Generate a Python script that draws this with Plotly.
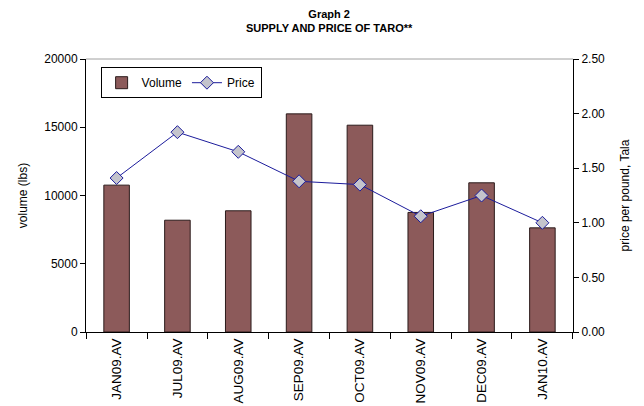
import plotly.graph_objects as go

categories = ["JAN09.AV", "JUL09.AV", "AUG09.AV", "SEP09.AV", "OCT09.AV", "NOV09.AV", "DEC09.AV", "JAN10.AV"]
volume = [10760, 8190, 8880, 15980, 15150, 8760, 10930, 7630]
price = [1.41, 1.83, 1.65, 1.38, 1.35, 1.06, 1.25, 1.00]
left_ticks = [0, 5000, 10000, 15000, 20000]
left_tick_text = ["0", "5000", "10000", "15000", "20000"]
right_ticks = [0, 0.5, 1.0, 1.5, 2.0, 2.5]
right_tick_text = ["0.00", "0.50", "1.00", "1.50", "2.00", "2.50"]

FONT = "Liberation Sans, Arial, sans-serif"

fig = go.Figure()
fig.add_trace(go.Bar(
    x=categories, y=volume, name="Volume",
    marker=dict(color="#8c5a5a", line=dict(color="#2b1b1b", width=1)),
    width=0.42,
))
fig.add_trace(go.Scatter(
    x=categories, y=price, name="Price", yaxis="y2", mode="lines+markers",
    line=dict(color="#1c1c9c", width=1),
    marker=dict(symbol="diamond", size=10, color="#c4c4cc", line=dict(color="#1c1c9c", width=1)),
))

fig.update_layout(
    width=644, height=406,
    margin=dict(l=86, r=71, t=59, b=74),
    paper_bgcolor="white", plot_bgcolor="white",
    font=dict(family=FONT, size=12, color="black"),
    showlegend=True,
    legend=dict(
        orientation="h", x=0.03, y=0.97, xanchor="left", yanchor="top",
        bordercolor="black", borderwidth=1, bgcolor="white",
        font=dict(family=FONT, size=12, color="black"),
        itemwidth=30,
    ),
    xaxis=dict(
        type="category", showgrid=False, showline=True, linecolor="black", linewidth=1,
        ticks="outside", ticklen=6, tickcolor="black", tickson="boundaries",
        tickangle=-90, tickfont=dict(family=FONT, size=13.5), automargin=False,
    ),
    yaxis=dict(
        range=[0, 20000], tickvals=left_ticks, ticktext=left_tick_text, showgrid=False,
        showline=True, linecolor="black", linewidth=1,
        ticks="outside", ticklen=5, tickcolor="black",
        title=dict(text="volume (lbs)", font=dict(family=FONT, size=12), standoff=14),
        tickfont=dict(family=FONT, size=12), zeroline=False, automargin=False,
    ),
    yaxis2=dict(
        range=[0, 2.5], tickvals=right_ticks, ticktext=right_tick_text,
        overlaying="y", side="right", showgrid=False,
        showline=True, linecolor="black", linewidth=1,
        ticks="outside", ticklen=5, tickcolor="black",
        title=dict(text="price per pound, Tala", font=dict(family=FONT, size=12), standoff=16),
        tickfont=dict(family=FONT, size=12), zeroline=False, automargin=False,
    ),
    shapes=[dict(type="line", xref="paper", yref="paper", x0=0, x1=1, y0=1, y1=1,
                 line=dict(color="#a0a0a0", width=1))],
    annotations=[dict(
        text="<b>Graph 2<br>SUPPLY AND PRICE OF TARO**</b>",
        xref="paper", yref="paper", x=0.5, y=1, yshift=53, xanchor="center", yanchor="top",
        showarrow=False, align="center",
        font=dict(family=FONT, size=11, color="black"),
    )],
)

fig.write_html("out.html", config={"displayModeBar": False},
               post_script="document.body.style.margin='0px';")
